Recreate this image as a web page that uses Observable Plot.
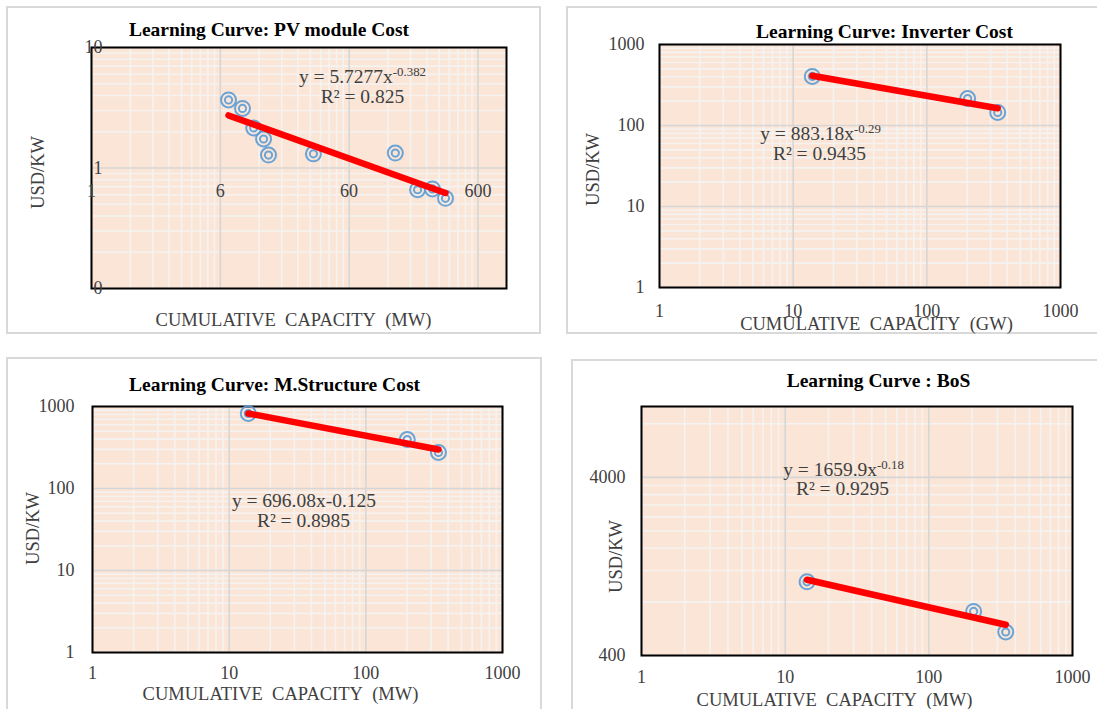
<!DOCTYPE html>
<html><head><meta charset="utf-8">
<script src="https://cdn.jsdelivr.net/npm/d3@7"></script>
<script src="https://cdn.jsdelivr.net/npm/@observablehq/plot@0.6"></script>
<style>
html,body{margin:0;padding:0;background:#fff;}
#page{position:relative;width:1097px;height:709px;overflow:hidden;background:#fff;}
.box{position:absolute;box-sizing:border-box;border:2px solid #d9d9d9;}
</style></head><body><div id="page"></div>
<script>
// ---------- DATA ----------
// Panel 1: PV module cost (USD/KW) vs cumulative capacity (MW)
const pvX = [6.95, 8.92, 10.9, 13.0, 14.2, 31.7, 137, 204, 266, 336];
const pvY = [3.67, 3.12, 2.15, 1.74, 1.28, 1.31, 1.33, 0.66, 0.67, 0.56];
const pvTrendX = [6.95, 336];
const pvTrendY = [2.73, 0.62];
const pvXTicks = [0.6, 6, 60, 600];
const pvXTickLabels = ["1", "6", "60", "600"];
const pvYTicks = [0.1, 1, 10];
const pvYTickLabels = ["0", "1", "10"];

// Panel 2: Inverter cost vs cumulative capacity (GW)
const invX = [13.9, 202, 339];
const invY = [403, 215, 145];
const invTrendX = [13.9, 339];
const invTrendY = [411, 163];

// Panel 3: Mounting structure cost vs cumulative capacity (MW)
const msX = [13.8, 201, 340];
const msY = [822, 396, 275];
const msTrendX = [13.8, 340];
const msTrendY = [822, 299];

// Panel 4: BoS cost vs cumulative capacity (MW)
const bosX = [14.2, 205, 343];
const bosY = [1037, 707, 542];
const bosTrendX = [14.2, 343];
const bosTrendY = [1065, 595];
const bosYTicks = [400, 4000];
const bosYTickLabels = ["400", "4000"];

const decadeTicks = [1, 10, 100, 1000];
const decadeTickLabels = ["1", "10", "100", "1000"];

const titles = ["Learning Curve: PV module Cost", "Learning Curve: Inverter Cost",
  "Learning Curve: M.Structure Cost", "Learning Curve : BoS"];
const xTitles = ["CUMULATIVE\u00a0\u00a0CAPACITY\u00a0\u00a0(MW)", "CUMULATIVE\u00a0\u00a0CAPACITY\u00a0\u00a0(GW)",
  "CUMULATIVE\u00a0\u00a0CAPACITY\u00a0\u00a0(MW)", "CUMULATIVE\u00a0\u00a0CAPACITY\u00a0\u00a0(MW)"];
const yTitle = "USD/KW";
const equations = ["y = 5.7277x^-0.382", "y = 883.18x^-0.29", "y = 696.08x-0.125", "y = 1659.9x^-0.18"];
const r2Labels = ["R² = 0.825", "R² = 0.9435", "R² = 0.8985", "R² = 0.9295"];

// ---------- STYLE ----------
const SERIF = "'Liberation Serif','Times New Roman',Times,serif";
const PEACH = "#fbe5d6", MINOR = "#f5f3f2", MAJOR = "#d6d6d6";
const BLUE = "#5b9bd5", RED = "#ff0000", TXT = "#404040";

function grid(majors, domain) {
  const [lo, hi] = domain;
  const minor = [];
  for (const b of majors) for (let k = 2; k <= 9; k++) {
    const v = b * k;
    if (v > lo * 1.0001 && v < hi * 0.9999) minor.push(v);
  }
  return {minor, major: majors.filter(v => v >= lo * 0.9999 && v <= hi * 1.0001)};
}

function superscripts(svg) {
  svg.querySelectorAll("text").forEach(t => {
    if (t.querySelector("tspan")) return;
    const s = t.textContent, i = s.indexOf("^");
    if (i < 0) return;
    t.textContent = s.slice(0, i);
    const ts = document.createElementNS("http://www.w3.org/2000/svg", "tspan");
    ts.setAttribute("dy", "-0.5em");
    ts.setAttribute("font-size", "0.66em");
    ts.textContent = s.slice(i + 1);
    t.appendChild(ts);
  });
}

const page = document.getElementById("page");

function addBox(l, t, w, h) {
  const d = document.createElement("div");
  d.className = "box";
  Object.assign(d.style, {left: l + "px", top: t + "px", width: w + "px", height: h + "px"});
  page.appendChild(d);
}

function panel(c) {
  const [ox, oy, w, h] = c.svg;
  const [l, t, r, b] = c.frame;
  const at = (px, py) => ({frameAnchor: "top-left", dx: px - l, dy: py - t, textAnchor: "middle", lineAnchor: "middle"});
  const gx = grid(c.xMajors, c.xDomain), gy = grid(c.yMajors, c.yDomain);
  const pts = c.xs.map((x, i) => ({x, y: c.ys[i]}));
  const trend = c.tx.map((x, i) => ({x, y: c.ty[i]}));
  const xLab = c.xLabelsAtY != null
    ? {x: d => d, y: () => c.xLabelsAtY, dy: c.xLabelDy}
    : {x: d => d, frameAnchor: "bottom", dy: c.xLabelDy};
  const marks = [
    Plot.frame({fill: PEACH, stroke: "none"}),
    Plot.ruleX(gx.minor, {x: d => d, stroke: MINOR, strokeWidth: 1.6}),
    Plot.ruleY(gy.minor, {y: d => d, stroke: MINOR, strokeWidth: 1.6}),
    Plot.ruleX(gx.major, {x: d => d, stroke: MAJOR, strokeWidth: 1.6}),
    Plot.ruleY(gy.major, {y: d => d, stroke: MAJOR, strokeWidth: 1.6}),
    Plot.frame({stroke: "#000", strokeWidth: 2, fill: "none"}),
    Plot.dot(pts, {x: "x", y: "y", r: 7.5, stroke: BLUE, strokeWidth: 2, fill: "none", strokeOpacity: 0.9}),
    Plot.dot(pts, {x: "x", y: "y", r: 3.6, stroke: BLUE, strokeWidth: 2, fill: "none", strokeOpacity: 0.9}),
    Plot.line(trend, {x: "x", y: "y", stroke: RED, strokeWidth: 6.5, strokeLinecap: "round"}),
    Plot.text(c.xTicks, {...xLab, textAnchor: "middle", lineAnchor: "middle",
      text: (d, i) => c.xLabels[i], fontSize: c.tickFont, fill: TXT}),
    Plot.text(c.yTicks, {y: d => d, frameAnchor: "left", textAnchor: "end", lineAnchor: "middle", dx: c.yLabelDx,
      text: (d, i) => c.yLabels[i], fontSize: c.tickFont, fill: TXT}),
    Plot.text([c.title], {text: d => d, ...at(...c.titlePos), fontSize: 19.5, fontWeight: "bold", fill: "#000"}),
    Plot.text([c.xTitle], {text: d => d, ...at(...c.xTitlePos), fontSize: c.axisFont, fill: TXT}),
    Plot.text([yTitle], {text: d => d, ...at(...c.yTitlePos), rotate: -90, fontSize: c.axisFont, fill: TXT}),
    Plot.text([c.eq], {text: d => d, ...at(...c.eqPos), fontSize: 19.5, fill: TXT}),
    Plot.text([c.r2], {text: d => d, ...at(...c.r2Pos), fontSize: 19.5, fill: TXT})
  ];
  const svg = Plot.plot({
    width: w, height: h,
    marginLeft: l - ox, marginTop: t - oy, marginRight: ox + w - r, marginBottom: oy + h - b,
    x: {type: "log", domain: c.xDomain, axis: null},
    y: {type: "log", domain: c.yDomain, axis: null},
    style: {background: "transparent", fontFamily: SERIF, overflow: "visible", color: TXT},
    marks
  });
  superscripts(svg);
  Object.assign(svg.style, {position: "absolute", left: ox + "px", top: oy + "px"});
  page.appendChild(svg);
}

addBox(6, 6, 535, 328);
addBox(566, 6, 600, 328);
addBox(6, 357, 536, 400);
addBox(571, 359, 600, 400);

panel({
  svg: [0, 0, 550, 345], frame: [91, 47, 506, 288],
  xDomain: [0.6, 1000], yDomain: [0.1, 10],
  xMajors: pvXTicks, yMajors: pvYTicks,
  xs: pvX, ys: pvY, tx: pvTrendX, ty: pvTrendY,
  xTicks: pvXTicks, xLabels: pvXTickLabels, xLabelsAtY: 1, xLabelDy: 23,
  yTicks: pvYTicks, yLabels: pvYTickLabels, yLabelDx: 11,
  tickFont: 18, axisFont: 18.5,
  title: titles[0], titlePos: [268.5, 29],
  xTitle: xTitles[0], xTitlePos: [293, 320],
  yTitlePos: [38, 172],
  eq: equations[0], eqPos: [362, 76], r2: r2Labels[0], r2Pos: [362, 96]
});

panel({
  svg: [550, 0, 547, 345], frame: [659, 44, 1060, 287],
  xDomain: [1, 1000], yDomain: [1, 1000],
  xMajors: decadeTicks, yMajors: decadeTicks,
  xs: invX, ys: invY, tx: invTrendX, ty: invTrendY,
  xTicks: decadeTicks, xLabels: decadeTickLabels, xLabelDy: 24,
  yTicks: decadeTicks, yLabels: decadeTickLabels, yLabelDx: -15,
  tickFont: 18, axisFont: 18.5,
  title: titles[1], titlePos: [884, 31],
  xTitle: xTitles[1], xTitlePos: [876, 324],
  yTitlePos: [593, 169],
  eq: equations[1], eqPos: [820, 133], r2: r2Labels[1], r2Pos: [819, 153]
});

panel({
  svg: [0, 345, 550, 364], frame: [92, 406, 502, 652],
  xDomain: [1, 1000], yDomain: [1, 1000],
  xMajors: decadeTicks, yMajors: decadeTicks,
  xs: msX, ys: msY, tx: msTrendX, ty: msTrendY,
  xTicks: decadeTicks, xLabels: decadeTickLabels, xLabelDy: 21,
  yTicks: decadeTicks, yLabels: decadeTickLabels, yLabelDx: -18,
  tickFont: 18, axisFont: 18.5,
  title: titles[2], titlePos: [274, 384.5],
  xTitle: xTitles[2], xTitlePos: [280, 694],
  yTitlePos: [33, 528],
  eq: equations[2], eqPos: [303.5, 500], r2: r2Labels[2], r2Pos: [303, 520]
});

panel({
  svg: [550, 345, 547, 364], frame: [641, 406, 1072, 655],
  xDomain: [1, 1000], yDomain: [400, 10000],
  xMajors: decadeTicks, yMajors: bosYTicks,
  xs: bosX, ys: bosY, tx: bosTrendX, ty: bosTrendY,
  xTicks: decadeTicks, xLabels: decadeTickLabels, xLabelDy: 22,
  yTicks: bosYTicks, yLabels: bosYTickLabels, yLabelDx: -16,
  tickFont: 18, axisFont: 18.5,
  title: titles[3], titlePos: [878, 380],
  xTitle: xTitles[3], xTitlePos: [834, 700],
  yTitlePos: [616, 556],
  eq: equations[3], eqPos: [843, 469], r2: r2Labels[3], r2Pos: [842, 488]
});
</script></body></html>
